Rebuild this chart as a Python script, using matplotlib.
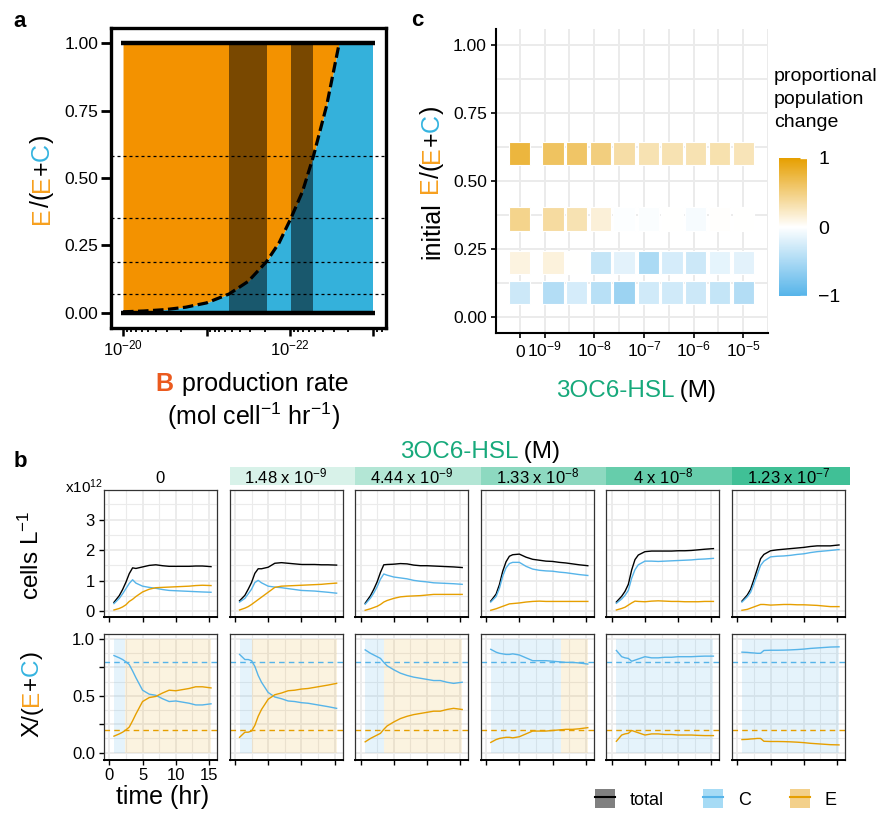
import numpy as np
import matplotlib
matplotlib.use('Agg')
import matplotlib.pyplot as plt
from matplotlib.colors import LinearSegmentedColormap, Normalize
from matplotlib.patches import Patch, Rectangle
from matplotlib.lines import Line2D
from matplotlib.legend_handler import HandlerTuple
from matplotlib.font_manager import FontProperties
from matplotlib import ticker

plt.rcParams['font.family'] = ['Liberation Sans', 'DejaVu Sans']
plt.rcParams['mathtext.fontset'] = 'custom'
plt.rcParams['mathtext.rm'] = 'Liberation Sans'
plt.rcParams['mathtext.it'] = 'Liberation Sans:italic'
plt.rcParams['mathtext.bf'] = 'Liberation Sans:bold'
plt.rcParams['mathtext.default'] = 'regular'

# ---- panel a: E/C boundary against B production rate
rate_curve = [1.0e-20, 5.62e-21, 3.16e-21, 1.78e-21, 1.0e-21, 5.37e-22, 3.16e-22,
              1.91e-22, 1.35e-22, 9.77e-23, 7.08e-23, 5.25e-23, 3.63e-23, 2.57e-23]
frac_curve = [0.004, 0.007, 0.012, 0.021, 0.037, 0.07, 0.117,
              0.19, 0.26, 0.35, 0.45, 0.58, 0.77, 1.0]
rate_range = [1e-20, 1e-23]
start_fracs = [0.07, 0.19, 0.35, 0.58]
bands = [(5.37e-22, 1.91e-22), (9.77e-23, 5.25e-23)]

# ---- panel c: proportional population change
hsl_conc = [0, 1.48e-9, 4.44e-9, 1.33e-8, 4e-8, 1.23e-7, 3.7e-7, 1.11e-6, 3.33e-6, 1e-5]
init_frac = [0.6, 0.36, 0.2, 0.09]
pop_change = [
    [0.75, 0.62, 0.60, 0.50, 0.35, 0.30, 0.30, 0.30, 0.32, 0.28],
    [0.45, 0.37, 0.30, 0.15, -0.02, -0.03, 0.0, -0.05, 0.01, 0.0],
    [0.12, 0.14, 0.0, -0.35, -0.17, -0.50, -0.25, -0.30, -0.15, -0.17],
    [-0.30, -0.45, -0.25, -0.42, -0.58, -0.28, -0.28, -0.30, -0.35, -0.45],
]

# ---- panel b: growth curves, x1e12 cells per L
strip_labels = ['0', '1.48 x 10$^{-9}$', '4.44 x 10$^{-9}$', '1.33 x 10$^{-8}$',
                '4 x 10$^{-8}$', '1.23 x 10$^{-7}$']
strip_colors = ['#D8F2E9', '#B3E6D5', '#8DD9C0', '#66CDAB', '#40C096']
hours = [0.7, 1.5, 2, 2.5, 3, 3.5, 4, 5, 6, 7, 8, 9, 10, 11, 12, 13, 14, 15.3]
C_cells = [
    [0.25, 0.42, 0.57, 0.74, 0.91, 1.03, 0.92, 0.82, 0.78, 0.75, 0.71, 0.68, 0.67, 0.66, 0.65, 0.64, 0.63, 0.62],
    [0.30, 0.42, 0.57, 0.72, 0.94, 1.01, 0.93, 0.82, 0.79, 0.77, 0.74, 0.71, 0.68, 0.67, 0.66, 0.64, 0.62, 0.59],
    [0.23, 0.43, 0.60, 0.80, 1.05, 1.22, 1.18, 1.12, 1.09, 1.06, 1.01, 0.98, 0.96, 0.93, 0.92, 0.91, 0.90, 0.88],
    [0.30, 0.48, 0.75, 1.15, 1.42, 1.56, 1.60, 1.60, 1.47, 1.38, 1.34, 1.32, 1.31, 1.28, 1.26, 1.23, 1.20, 1.17],
    [0.26, 0.40, 0.52, 0.68, 1.08, 1.36, 1.52, 1.64, 1.64, 1.63, 1.64, 1.65, 1.66, 1.67, 1.68, 1.70, 1.71, 1.73],
    [0.30, 0.47, 0.62, 0.90, 1.20, 1.50, 1.64, 1.78, 1.80, 1.81, 1.83, 1.86, 1.88, 1.92, 1.95, 1.97, 1.99, 2.02],
]
E_cells = [
    [0.04, 0.09, 0.14, 0.21, 0.32, 0.39, 0.48, 0.63, 0.72, 0.77, 0.78, 0.79, 0.80, 0.81, 0.82, 0.84, 0.85, 0.84],
    [0.04, 0.10, 0.15, 0.22, 0.30, 0.38, 0.46, 0.62, 0.78, 0.82, 0.83, 0.84, 0.85, 0.86, 0.87, 0.88, 0.90, 0.92],
    [0.03, 0.08, 0.12, 0.16, 0.22, 0.30, 0.35, 0.42, 0.47, 0.49, 0.50, 0.51, 0.53, 0.55, 0.55, 0.55, 0.55, 0.55],
    [0.03, 0.08, 0.12, 0.16, 0.20, 0.24, 0.25, 0.27, 0.30, 0.32, 0.33, 0.32, 0.32, 0.32, 0.32, 0.32, 0.32, 0.32],
    [0.04, 0.09, 0.13, 0.20, 0.27, 0.33, 0.32, 0.31, 0.33, 0.34, 0.33, 0.32, 0.32, 0.31, 0.31, 0.31, 0.32, 0.32],
    [0.03, 0.06, 0.10, 0.14, 0.18, 0.22, 0.22, 0.20, 0.21, 0.22, 0.22, 0.21, 0.21, 0.20, 0.19, 0.17, 0.15, 0.15],
]
E_frac = [
    [0.145, 0.165, 0.18, 0.20, 0.225, 0.28, 0.34, 0.45, 0.485, 0.495, 0.525, 0.55, 0.545, 0.555, 0.565, 0.58, 0.58, 0.57],
    [0.135, 0.18, 0.18, 0.19, 0.24, 0.32, 0.38, 0.47, 0.51, 0.525, 0.545, 0.55, 0.56, 0.565, 0.575, 0.585, 0.595, 0.61],
    [0.095, 0.125, 0.14, 0.155, 0.17, 0.205, 0.235, 0.27, 0.30, 0.32, 0.335, 0.345, 0.355, 0.365, 0.365, 0.38, 0.39, 0.38],
    [0.09, 0.115, 0.125, 0.13, 0.135, 0.135, 0.13, 0.14, 0.165, 0.19, 0.19, 0.19, 0.195, 0.20, 0.205, 0.205, 0.21, 0.22],
    [0.10, 0.155, 0.165, 0.17, 0.195, 0.185, 0.175, 0.155, 0.165, 0.165, 0.16, 0.16, 0.155, 0.155, 0.155, 0.152, 0.15, 0.15],
    [0.115, 0.117, 0.12, 0.122, 0.125, 0.125, 0.10, 0.098, 0.098, 0.097, 0.095, 0.092, 0.088, 0.082, 0.078, 0.074, 0.07, 0.068],
]
# time at which the shaded background turns from C-favoured to E-favoured
switch_hr = [2.3, 2.6, 3.5, 11.3, None, None]
init_C, init_E = 0.8, 0.2

ORANGE = '#E69F00'
SKY = '#56B4E9'
A_ORANGE = '#F39200'
A_BLUE = '#34B1DB'
E_LAB = '#F7A01E'
C_LAB = '#35B4E0'
GREEN = '#17A97B'
B_RED = '#EB5A1E'
GRID = '#EBEBEB'

W, H = 877, 817
fig = plt.figure(figsize=(W / 100, H / 100), dpi=100)


def box(x0, y0, x1, y1):
    return [x0 / W, 1 - y1 / H, (x1 - x0) / W, (y1 - y0) / H]


ov = fig.add_axes([0, 0, 1, 1], zorder=5)
ov.set_xlim(0, W)
ov.set_ylim(H, 0)
ov.axis('off')
renderer = fig.canvas.get_renderer()


def ink_w(s, size, weight='normal'):
    fp = FontProperties(family='Liberation Sans', size=size, weight=weight)
    return renderer.get_text_width_height_descent(s, fp, ismath=False)[0]


def multicolor(x, y, pieces, size, rotation=0):
    # coloured pieces laid out as one string, centred on (x, y), baseline at x (rotated) / y
    weights = {p[2] for p in pieces}
    offsets = []
    if len(weights) == 1:
        wt = pieces[0][2]
        full = ''
        for s, _, _ in pieces:
            full += s
            offsets.append(ink_w(full, size, wt) - ink_w(s, size, wt))
        total = ink_w(full, size, wt)
    else:
        pos = 0
        for s, _, wt in pieces:
            offsets.append(pos)
            pos += ink_w(s, size, wt) + 1
        total = pos - 1
    for (s, col, wt), off in zip(pieces, offsets):
        p = off - total / 2
        xy = (x, y - p) if rotation else (x + p, y)
        ov.text(xy[0], xy[1], s, color=col, fontsize=size, fontweight=wt, rotation=rotation,
                rotation_mode='anchor', ha='left', va='baseline')


# ================= panel a
axa = fig.add_axes(box(111, 28, 386, 328))
axa.set_xscale('log')
axa.fill_between(rate_curve, frac_curve, 1, color=A_ORANGE, lw=0)
axa.fill_between(rate_curve, 0, frac_curve, color=A_BLUE, lw=0)
axa.fill_between([rate_curve[-1], rate_range[1]], 0, 1, color=A_BLUE, lw=0)
for lo, hi in bands:
    axa.fill_between([lo, hi], 0, 1, color='black', alpha=0.5, lw=0)
for f in start_fracs:
    axa.axhline(f, color='black', lw=0.9, ls=(0, (2.4, 2.4)))
axa.hlines([0, 1], rate_range[0] * 1.07, rate_range[1] * 0.95, color='black', lw=3.2)
axa.plot(rate_curve, frac_curve, color='black', lw=2.3, ls=(0, (3.3, 1.4)))
axa.set_xlim(10 ** -19.856, 10 ** -23.15)
axa.set_ylim(-0.056, 1.056)
axa.xaxis.set_major_locator(ticker.FixedLocator([1e-20, 1e-21, 1e-22, 1e-23]))
axa.xaxis.set_major_formatter(ticker.FixedFormatter(['$10^{-20}$', '', '$10^{-22}$', '']))
axa.xaxis.set_minor_locator(ticker.LogLocator(base=10, subs=np.arange(2, 10), numticks=20))
axa.xaxis.set_minor_formatter(ticker.NullFormatter())
axa.set_yticks([0, 0.25, 0.5, 0.75, 1.0])
axa.yaxis.set_major_formatter(ticker.FormatStrFormatter('%.2f'))
axa.tick_params(axis='y', direction='out', length=7, width=2, labelsize=12.5, pad=2)
axa.tick_params(axis='x', which='major', direction='out', length=5.5, width=1.8, labelsize=12, pad=2)
axa.tick_params(axis='x', which='minor', direction='out', length=3, width=1.3)
for s in axa.spines.values():
    s.set_linewidth(2.4)

multicolor(49, 179, [('E', E_LAB, 'normal'), ('/(', 'black', 'normal'), ('E', E_LAB, 'normal'),
                     ('+', 'black', 'normal'), ('C', C_LAB, 'normal'), (')', 'black', 'normal')],
           18, rotation=90)
multicolor(252, 391, [('B', B_RED, 'bold'), (' production rate', 'black', 'normal')], 18)
ov.text(253, 416, '(mol cell$^{-1}$ hr$^{-1}$)', fontsize=18, ha='center', va='center')

# ================= panel c
axc = fig.add_axes(box(496, 29, 768, 333))
cmap = LinearSegmentedColormap.from_list('popchange', [SKY, 'white', ORANGE])
norm = Normalize(-1, 1)
xpos = [-9.5 if c == 0 else np.log10(c) for c in hsl_conc]
for frac, row in zip(init_frac, pop_change):
    axc.bar(xpos, 0.085, width=0.43, bottom=frac - 0.0425, color=cmap(norm(np.array(row))),
            edgecolor='white', lw=0.8, zorder=3)
axc.set_xlim(-9.98, -4.5)
axc.set_ylim(-0.06, 1.06)
axc.set_xticks([-9.5, -9, -8, -7, -6, -5])
axc.set_xticklabels(['0', '$10^{-9}$', '$10^{-8}$', '$10^{-7}$', '$10^{-6}$', '$10^{-5}$'])
axc.set_xticks([-8.5, -7.5, -6.5, -5.5, -4.5], minor=True)
axc.set_yticks([0, 0.25, 0.5, 0.75, 1.0])
axc.set_yticks([0.125, 0.375, 0.625, 0.875], minor=True)
axc.yaxis.set_major_formatter(ticker.FormatStrFormatter('%.2f'))
axc.grid(which='both', color=GRID, lw=1.4)
axc.set_axisbelow(True)
axc.spines['top'].set_visible(False)
axc.spines['right'].set_visible(False)
axc.spines['left'].set_linewidth(1.5)
axc.spines['bottom'].set_linewidth(1.5)
axc.tick_params(which='major', direction='out', length=3.5, width=1.2, labelsize=12.5, pad=3)
axc.tick_params(axis='x', which='major', pad=13.5)
axc.tick_params(which='minor', length=0)
for lab in axc.get_xticklabels():
    lab.set_verticalalignment('baseline')

multicolor(439, 182, [('initial', 'black', 'normal'), (' E', E_LAB, 'normal'), ('/(', 'black', 'normal'),
                      ('E', E_LAB, 'normal'), ('+', 'black', 'normal'), ('C', C_LAB, 'normal'),
                      (')', 'black', 'normal')], 18, rotation=90)
multicolor(636, 397, [('3OC6-HSL', GREEN, 'normal'), (' (M)', 'black', 'normal')], 17.5)

cax = fig.add_axes(box(779, 158, 807, 296))
cb = fig.colorbar(plt.cm.ScalarMappable(norm=norm, cmap=cmap), cax=cax, ticks=[-1, 0, 1])
cb.outline.set_visible(False)
cb.ax.set_yticklabels(['\u22121', '0', '1'])
cb.ax.tick_params(length=5, color='white', width=1, labelsize=14, pad=8, direction='in')
ov.text(774, 68, 'proportional\npopulation\nchange', fontsize=14, ha='left', va='top', linespacing=1.45)

# ================= panel b
b_left, b_step, b_w = 104, 125.6, 113


def style_b(ax, ylim, majors, minors, first):
    ax.set_xlim(-0.8, 16.2)
    ax.set_ylim(*ylim)
    ax.set_xticks([0, 5, 10, 15])
    ax.set_xticks([2.5, 7.5, 12.5], minor=True)
    ax.set_yticks(majors)
    ax.set_yticks(minors, minor=True)
    ax.grid(which='major', color=GRID, lw=1.3)
    ax.grid(which='minor', color=GRID, lw=0.8)
    ax.set_axisbelow(True)
    for s in ax.spines.values():
        s.set_color('#333333')
        s.set_linewidth(0.9)
    ax.spines['bottom'].set_color('black')
    ax.spines['bottom'].set_linewidth(1.4)
    ax.tick_params(which='minor', length=0)
    ax.tick_params(axis='x', which='major', direction='out', length=3.5, width=1, labelsize=12, pad=2)
    ax.tick_params(axis='y', which='major', direction='out', length=3.5 if first else 0,
                   width=1, labelsize=12, pad=3, labelleft=first)


for k in range(6):
    x0 = b_left + k * b_step
    at = fig.add_axes(box(x0, 490, x0 + b_w, 617))
    ab = fig.add_axes(box(x0, 634, x0 + b_w, 760))
    c = np.array(C_cells[k])
    e = np.array(E_cells[k])
    at.plot(hours, c + e, color='black', lw=1.0)
    at.plot(hours, c, color=SKY, lw=1.0)
    at.plot(hours, e, color=ORANGE, lw=1.0)
    style_b(at, (-0.19, 3.97), [0, 1, 2, 3], [0.5, 1.5, 2.5, 3.5], k == 0)
    at.tick_params(axis='x', labelbottom=False)

    ef = np.array(E_frac[k])
    t0, t1 = hours[0], hours[-1]
    sw = switch_hr[k] if switch_hr[k] is not None else t1
    ab.fill_between([t0, sw], 0, 1, color=SKY, alpha=0.15, lw=0)
    if sw < t1:
        ab.fill_between([sw, t1], 0, 1, color=ORANGE, alpha=0.12, lw=0)
    ab.axhline(init_C, color=SKY, lw=1.0, ls=(0, (4, 3)))
    ab.axhline(init_E, color=ORANGE, lw=1.0, ls=(0, (4, 3)))
    ab.plot(hours, 1 - ef, color=SKY, lw=1.0)
    ab.plot(hours, ef, color=ORANGE, lw=1.0)
    style_b(ab, (-0.065, 1.045), [0, 0.25, 0.5, 0.75, 1.0], [0.125, 0.375, 0.625, 0.875], k == 0)
    if k == 0:
        ab.set_yticklabels(['0.0', '', '0.5', '', '1.0'])
        at.set_yticklabels(['0', '1', '2', '3'])
    else:
        ab.tick_params(axis='x', labelbottom=False)

    # facet strip
    if k > 0:
        sw_w = b_step if k < 5 else 118
        ov.add_patch(Rectangle((x0, 467), sw_w, 18, color=strip_colors[k - 1], lw=0))
    ov.text(x0 + b_w / 2, 483, strip_labels[k], fontsize=12, ha='center', va='baseline')

multicolor(480, 458, [('3OC6-HSL', GREEN, 'normal'), (' (M)', 'black', 'normal')], 17.5)
ov.text(84, 487, 'x10$^{12}$', fontsize=11, ha='center', va='center')
ov.text(31, 555, 'cells L$^{-1}$', fontsize=17.5, rotation=90, ha='center', va='center')
multicolor(38, 694, [('X/(', 'black', 'normal'), ('E', E_LAB, 'normal'), ('+', 'black', 'normal'),
                     ('C', C_LAB, 'normal'), (')', 'black', 'normal')], 17.5, rotation=90)
ov.text(163, 797, 'time (hr)', fontsize=18, ha='center', va='center')

handles = [(Patch(facecolor='#808080', lw=0), Line2D([], [], color='black', lw=1.5)),
           (Patch(facecolor='#A6DBF5', lw=0), Line2D([], [], color=SKY, lw=1.5)),
           (Patch(facecolor='#F3D08A', lw=0), Line2D([], [], color=ORANGE, lw=1.5))]
fig.legend(handles, ['total', 'C', 'E'], handler_map={tuple: HandlerTuple(ndivide=1)},
           loc='center', bbox_to_anchor=(716 / W, 1 - 799 / H), ncol=3, frameon=False,
           fontsize=13, handlelength=1.1, handleheight=1.2, handletextpad=0.8, columnspacing=2.2)

for s, x, y in [('a', 20, 21), ('c', 417, 20), ('b', 20, 461)]:
    ov.text(x, y, s, fontsize=16, fontweight='bold', ha='center', va='center')

fig.savefig('out.png', dpi=100)
